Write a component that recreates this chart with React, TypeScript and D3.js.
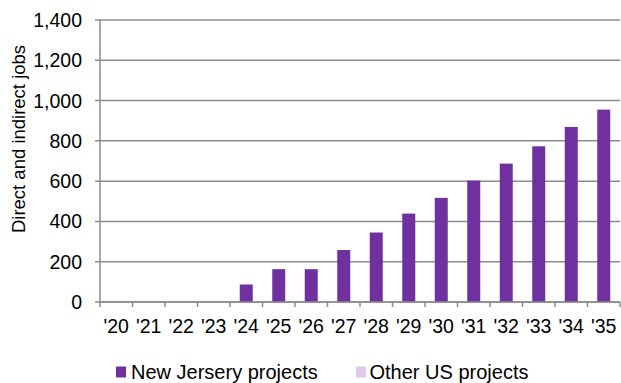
import React from "react";
import * as d3 from "d3";

const categories = ["'20", "'21", "'22", "'23", "'24", "'25", "'26", "'27", "'28", "'29", "'30", "'31", "'32", "'33", "'34", "'35"];
const newJerseyValues = [0, 0, 0, 0, 87, 163, 163, 258, 345, 439, 517, 603, 687, 773, 869, 955];
const otherUSValues = [0, 0, 0, 0, 0, 0, 0, 0, 0, 0, 0, 0, 0, 0, 0, 0];
const yTicks = [0, 200, 400, 600, 800, 1000, 1200, 1400];
const seriesNames = ["New Jersery projects", "Other US projects"];

const W = 621;
const H = 383;
const margin = { left: 100, right: 1, top: 20, bottom: 81 };
const FONT = "'Liberation Sans', Arial, sans-serif";
const GRID = "#8c8c8c";
const C1 = "#7030a0";
const C2 = "#dccbeb";

export default function App() {
  const x = d3.scaleBand<string>().domain(categories).range([margin.left, W - margin.right]).paddingInner(0.6).paddingOuter(0.3);
  const xb = d3.scaleBand<string>().domain(categories).range([margin.left, W - margin.right]);
  const y = d3.scaleLinear().domain([0, 1400]).range([H - margin.bottom, margin.top]);
  const fmt = d3.format(",");
  const y0 = y(0);
  return (
    <svg width={W} height={H} style={{ position: "absolute", left: 0, top: 0 }} fontFamily={FONT}>
      <rect width={W} height={H} fill="#fff" />
      {yTicks.map((t) => (
        <g key={t}>
          <line x1={margin.left - 5} x2={W - margin.right} y1={y(t)} y2={y(t)} stroke={GRID} strokeWidth={1.5} />
          <text x={82} y={y(t)} dy="0.36em" textAnchor="end" fontSize={19.5} fill="#000">{fmt(t)}</text>
        </g>
      ))}
      <line x1={margin.left} x2={margin.left} y1={margin.top} y2={y0} stroke={GRID} strokeWidth={1.5} />
      {categories.map((c, i) => (
        <g key={c}>
          <line x1={xb(c)!} x2={xb(c)!} y1={y0} y2={y0 + 5} stroke={GRID} strokeWidth={1.5} />
          {i === categories.length - 1 && (
            <line x1={xb(c)! + xb.bandwidth()} x2={xb(c)! + xb.bandwidth()} y1={y0} y2={y0 + 5} stroke={GRID} strokeWidth={1.5} />
          )}
          <text x={xb(c)! + xb.bandwidth() / 2} y={y0 + 31} textAnchor="middle" fontSize={19.5} fill="#000">{c}</text>
        </g>
      ))}
      {categories.map((c, i) => (
        <g key={"b" + c}>
          <rect x={x(c)!} width={x.bandwidth()} y={y(newJerseyValues[i])} height={y0 - y(newJerseyValues[i])} fill={C1} />
          <rect x={x(c)!} width={x.bandwidth()} y={y(newJerseyValues[i] + otherUSValues[i])} height={y(newJerseyValues[i]) - y(newJerseyValues[i] + otherUSValues[i])} fill={C2} />
        </g>
      ))}
      <line x1={margin.left} x2={W - margin.right} y1={y0} y2={y0} stroke={GRID} strokeWidth={1.5} />
      <text transform={`translate(24.5,${139}) rotate(-90)`} textAnchor="middle" fontSize={18.5} fill="#000">Direct and indirect jobs</text>
      <g>
        <rect x={116} y={366.5} width={10} height={11} fill={C1} />
        <text x={131} y={379} fontSize={20} fill="#000">{seriesNames[0]}</text>
        <rect x={356} y={366.5} width={10} height={11} fill={C2} />
        <text x={369.5} y={379} fontSize={20} fill="#000">{seriesNames[1]}</text>
      </g>
    </svg>
  );
}
